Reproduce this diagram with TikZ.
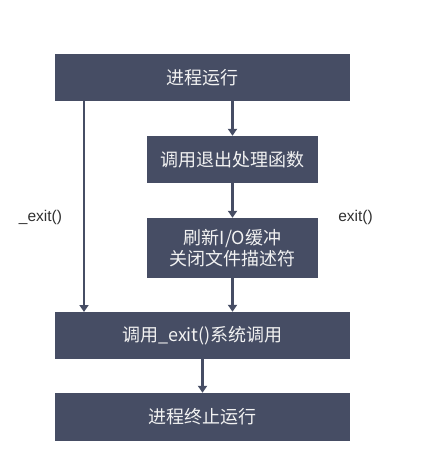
\documentclass[tikz,border=0pt]{standalone}
\usepackage{fontspec}
\setmainfont{Noto Sans CJK SC}
\newfontfamily\lblfont{Liberation Sans}
\usetikzlibrary{arrows.meta}
\definecolor{boxc}{HTML}{464D64}
\definecolor{txtc}{HTML}{F2F2F2}
\definecolor{lblc}{HTML}{303030}
\begin{document}
\begin{tikzpicture}[x=1pt,y=-1pt,
  stepbox/.style={fill=boxc,draw=none,text=txtc,font=\fontsize{18}{21}\selectfont,align=center,inner sep=0pt},
  conn/.style={draw=boxc,line width=2.8pt,-{Triangle[length=7pt,width=9pt]}},
  lbl/.style={text=lblc,font=\lblfont\fontsize{15.5}{17}\selectfont,inner sep=0pt}]
\useasboundingbox (0,0) rectangle (422,457);
\node[stepbox,minimum width=295pt,minimum height=47pt] (a) at (202.5,77.5) {进程运行};
\node[stepbox,minimum width=171pt,minimum height=47pt] (b) at (232.5,159.5) {调用退出处理函数};
\node[stepbox,minimum width=171pt,minimum height=60pt] (c) at (232.5,248) {刷新I/O缓冲\\关闭文件描述符};
\node[stepbox,minimum width=295pt,minimum height=47pt] (d) at (202.5,335.5) {调用\_exit()系统调用};
\node[stepbox,minimum width=295pt,minimum height=48pt] (e) at (202.5,417) {进程终止运行};
\coordinate (l1) at (84,101);
\coordinate (l2) at (84,312);
\draw[conn] (l1) -- (l2);
\draw[conn] (a.south -| b.north) -- (b.north);
\draw[conn] (b.south) -- (c.north);
\draw[conn] (c.south) -- (c.south |- d.north);
\draw[conn] (d.south) -- (e.north);
\node[lbl] (x1) at (40.5,217) {\_exit()};
\node[lbl] (x2) at (355.5,217) {exit()};
\end{tikzpicture}
\end{document}
